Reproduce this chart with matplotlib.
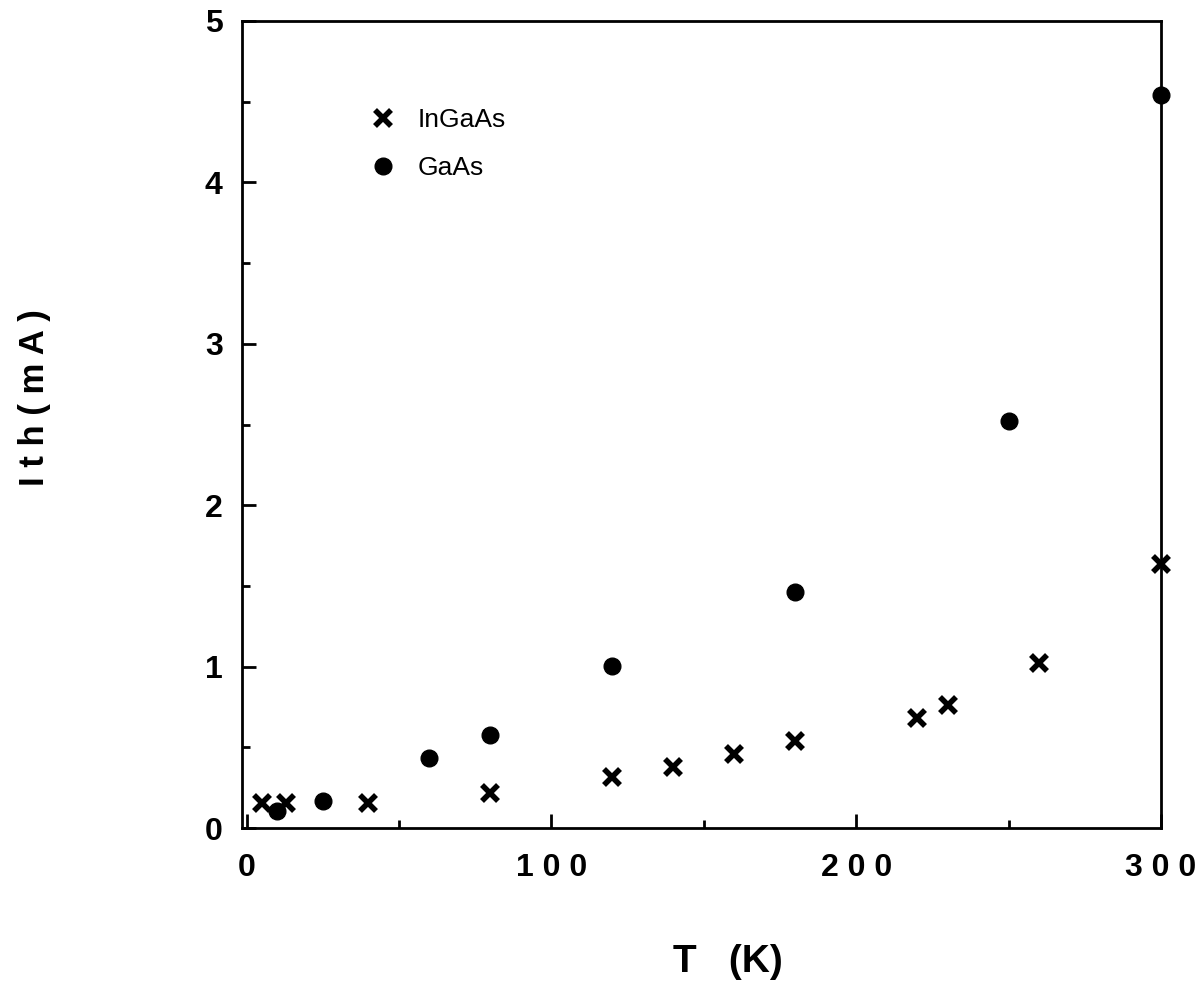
import matplotlib
matplotlib.use("Agg")
import matplotlib.pyplot as plt
from matplotlib.ticker import MultipleLocator, FixedLocator

# Threshold current vs temperature
ingaas_T = [5, 13, 40, 80, 120, 140, 160, 180, 220, 230, 260, 300]
ingaas_I = [0.155, 0.155, 0.155, 0.217, 0.316, 0.378, 0.458, 0.539, 0.68, 0.76, 1.02, 1.635]
gaas_T = [10, 25, 60, 80, 120, 180, 250, 300]
gaas_I = [0.105, 0.167, 0.433, 0.576, 1.003, 1.46, 2.52, 4.54]

x_ticks = [0, 100, 200, 300]
x_ticklabels = ["0", "1 0 0", "2 0 0", "3 0 0"]
y_ticks = [0, 1, 2, 3, 4, 5]

plt.rcParams["font.family"] = ["Liberation Sans", "DejaVu Sans"]

fig = plt.figure(figsize=(12, 9.85), dpi=100)
ax = fig.add_axes([242 / 1200, 1 - 828 / 985, 919 / 1200, 807 / 985])

ax.plot(ingaas_T, ingaas_I, linestyle="none", marker="x", markersize=11,
        markeredgewidth=4.0, color="black", label="InGaAs", clip_on=False)
ax.plot(gaas_T, gaas_I, linestyle="none", marker="o", markersize=12,
        color="black", label="GaAs", clip_on=False)

ax.set_xlim(-1.5, 300)
ax.set_ylim(0, 5)

ax.xaxis.set_major_locator(FixedLocator(x_ticks))
ax.set_xticklabels(x_ticklabels)
ax.xaxis.set_minor_locator(MultipleLocator(50))
ax.set_yticks(y_ticks)
ax.yaxis.set_minor_locator(MultipleLocator(0.5))

for s in ax.spines.values():
    s.set_linewidth(2.0)

ax.tick_params(which="major", direction="in", length=10, width=2,
               top=False, right=False, labelsize=23)
ax.tick_params(which="minor", direction="in", length=5.5, width=2,
               top=False, right=False)
ax.tick_params(axis="x", which="major", pad=18)
ax.tick_params(axis="y", which="major", pad=14)
for lbl in ax.get_xticklabels() + ax.get_yticklabels():
    lbl.set_fontweight("bold")

fig.text(35 / 1200, 1 - 398 / 985, "I t h ( m A )", rotation=90,
         ha="center", va="center", fontsize=25, fontweight="bold")
fig.text(728 / 1200, 1 - 962 / 985, "T   (K)", ha="center", va="center",
         fontsize=28, fontweight="bold")

ax.legend(loc="upper left", bbox_to_anchor=(0.128, 0.905), frameon=False,
          fontsize=19, handletextpad=0.8, labelspacing=0.9,
          handlelength=1.0, borderaxespad=0)

fig.savefig("out.png", dpi=100, facecolor="white")
